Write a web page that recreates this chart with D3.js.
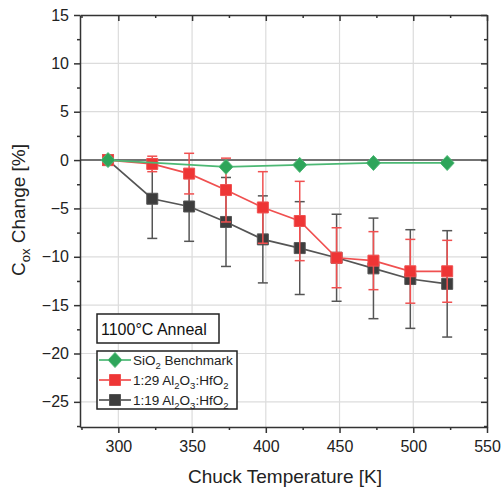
<!DOCTYPE html>
<html><head><meta charset="utf-8">
<script src="https://cdn.jsdelivr.net/npm/d3@7"></script>
<style>body{margin:0;background:#fff;} text{font-family:"Liberation Sans",Arial,sans-serif;}</style>
</head><body><svg id="c" width="502" height="497"></svg>
<script>
const temps = [293,323,348,373,398,423,448,473,498,523];
const sio2Temps = [293,373,423,473,523];
const sio2Vals = [0,-0.7,-0.5,-0.3,-0.3];
const r29Vals = [0,-0.4,-1.4,-3.1,-4.9,-6.3,-10.1,-10.4,-11.5,-11.5];
const r29Err  = [0,0.8,2.1,3.3,3.7,4.1,3.1,3.0,3.3,3.2];
const r19Vals = [0,-4.0,-4.8,-6.4,-8.2,-9.1,-10.1,-11.2,-12.3,-12.8];
const r19Err  = [0,4.1,3.6,4.6,4.5,4.8,4.5,5.2,5.1,5.5];
const xTicks = [300,350,400,450,500,550];
const yTicks = [-25,-20,-15,-10,-5,0,5,10,15];
const xMinor = [275,325,375,425,475,525];
const yMinor = [-27.5,-22.5,-17.5,-12.5,-7.5,-2.5,2.5,7.5,12.5];
const legendNames = ["SiO2 Benchmark","1:29 Al2O3:HfO2","1:19 Al2O3:HfO2"];
const annealLabel = "1100°C Anneal";

const L=80,R=487,T=15,B=427;
const x = d3.scaleLinear().domain([274,550]).range([L,R]);
const y = d3.scaleLinear().domain([-27.6,15]).range([B,T]);
const svg = d3.select("#c");
const axisCol="#333";

// grid
svg.append("g").selectAll("line").data(xTicks.slice(0,-1)).join("line")
  .attr("x1",d=>x(d)).attr("x2",d=>x(d)).attr("y1",T).attr("y2",B)
  .attr("stroke","#dcdcdc").attr("stroke-width",1.2);
svg.append("g").selectAll("line").data(yTicks.filter(d=>d!==0&&d!==15)).join("line")
  .attr("x1",L).attr("x2",R).attr("y1",d=>y(d)).attr("y2",d=>y(d))
  .attr("stroke","#dcdcdc").attr("stroke-width",1.2);
svg.append("line").attr("x1",L).attr("x2",R).attr("y1",y(0)).attr("y2",y(0))
  .attr("stroke","#444").attr("stroke-width",1.6);

// axes
function styleAxis(g){g.selectAll("path,line").attr("stroke",axisCol).attr("stroke-width",1.5);
  g.selectAll("text").attr("font-size",16).attr("fill","#222").attr("font-family","Liberation Sans, Arial, sans-serif");}
const fmt = d=> d<0 ? "\u2212"+Math.abs(d) : String(d);
svg.append("g").attr("transform",`translate(0,${B})`)
  .call(d3.axisBottom(x).tickValues(xTicks).tickSize(6).tickPadding(8).tickSizeOuter(0).tickFormat(fmt)).call(styleAxis);
svg.append("g").attr("transform",`translate(0,${B})`)
  .call(d3.axisBottom(x).tickValues(xMinor.filter(d=>d>=274)).tickSize(3).tickSizeOuter(0).tickFormat("")).call(styleAxis).select(".domain").remove();
svg.append("g").attr("transform",`translate(${L},0)`)
  .call(d3.axisLeft(y).tickValues(yTicks).tickSize(6).tickPadding(5).tickSizeOuter(0).tickFormat(fmt)).call(styleAxis);
svg.append("g").attr("transform",`translate(${L},0)`)
  .call(d3.axisLeft(y).tickValues(yMinor).tickSize(3).tickSizeOuter(0).tickFormat("")).call(styleAxis).select(".domain").remove();
// right & top axes (inward ticks)
svg.append("g").attr("transform",`translate(${R},0)`)
  .call(d3.axisRight(y).tickValues(yTicks).tickSize(-6).tickSizeOuter(0).tickFormat("")).call(styleAxis);
svg.append("g").attr("transform",`translate(${R},0)`)
  .call(d3.axisRight(y).tickValues(yMinor).tickSize(-3).tickSizeOuter(0).tickFormat("")).call(styleAxis).select(".domain").remove();
svg.append("g").attr("transform",`translate(0,${T})`)
  .call(d3.axisTop(x).tickValues(xTicks).tickSize(-6).tickSizeOuter(0).tickFormat("")).call(styleAxis);
svg.append("g").attr("transform",`translate(0,${T})`)
  .call(d3.axisTop(x).tickValues(xMinor.filter(d=>d>=274)).tickSize(-3).tickSizeOuter(0).tickFormat("")).call(styleAxis).select(".domain").remove();

// axis labels
svg.append("text").attr("x",285).attr("y",483).attr("text-anchor","middle").attr("font-size",19).attr("fill","#222")
  .text("Chuck Temperature [K]");
const yl = svg.append("text").attr("transform","translate(25,210) rotate(-90)").attr("text-anchor","middle").attr("font-size",19).attr("fill","#222");
yl.append("tspan").text("C");
yl.append("tspan").attr("font-size",13).attr("dy",5).text("ox");
yl.append("tspan").attr("dy",-5).text(" Change [%]");

// series
const line = d3.line().x(d=>x(d[0])).y(d=>y(d[1]));
function drawSeries(tt, vals, errs, col, lineCol, marker){
  const g = svg.append("g");
  const pts = tt.map((t,i)=>[t,vals[i],errs?errs[i]:0]);
  g.append("path").datum(pts).attr("d",line).attr("fill","none").attr("stroke",lineCol).attr("stroke-width",1.7);
  if(errs){
    const eb = g.selectAll("g.eb").data(pts.filter(p=>p[2]>0)).join("g").attr("stroke",lineCol).attr("stroke-width",1.5);
    eb.append("line").attr("x1",d=>x(d[0])).attr("x2",d=>x(d[0])).attr("y1",d=>y(d[1]+d[2])).attr("y2",d=>y(d[1]-d[2]));
    eb.append("line").attr("x1",d=>x(d[0])-5).attr("x2",d=>x(d[0])+5).attr("y1",d=>y(d[1]+d[2])).attr("y2",d=>y(d[1]+d[2]));
    eb.append("line").attr("x1",d=>x(d[0])-5).attr("x2",d=>x(d[0])+5).attr("y1",d=>y(d[1]-d[2])).attr("y2",d=>y(d[1]-d[2]));
  }
  g.selectAll("path.m").data(pts).join("path").attr("class","m")
    .attr("transform",d=>`translate(${x(d[0])},${y(d[1])})`)
    .attr("d",marker).attr("fill",col).attr("stroke",lineCol).attr("stroke-width",1);
}
const sq = "M-5.5,-5.5H5.5V5.5H-5.5Z";
const dm = "M0,-7.5L7,0L0,7.5L-7,0Z";
drawSeries(temps, r19Vals, r19Err, "#3d3d3d", "#555", sq);
drawSeries(temps, r29Vals, r29Err, "#ee3535", "#f05050", sq);
drawSeries(sio2Temps, sio2Vals, null, "#2ea55a", "#4cb874", dm);

// anneal box
svg.append("rect").attr("x",97).attr("y",314).attr("width",122).attr("height",29).attr("fill","#fff").attr("stroke","#222").attr("stroke-width",1.5);
svg.append("text").attr("x",101).attr("y",335).attr("font-size",16).attr("fill","#111").text(annealLabel);

// legend
svg.append("rect").attr("x",97).attr("y",351).attr("width",140).attr("height",58).attr("fill","#fff").attr("stroke","#222").attr("stroke-width",1.5);
const legCols = [["#2ea55a","#4cb874",dm],["#ee3535","#f05050",sq],["#3d3d3d","#555",sq]];
const legParts = [
  [["SiO",0],["2",1],[" Benchmark",0]],
  [["1:29 Al",0],["2",1],["O",0],["3",1],[":HfO",0],["2",1]],
  [["1:19 Al",0],["2",1],["O",0],["3",1],[":HfO",0],["2",1]]
];
legendNames.forEach((n,i)=>{
  const yy = 360 + i*20;
  svg.append("line").attr("x1",99).attr("x2",131).attr("y1",yy).attr("y2",yy).attr("stroke",legCols[i][1]).attr("stroke-width",1.7);
  svg.append("path").attr("transform",`translate(115,${yy})`).attr("d",legCols[i][2]).attr("fill",legCols[i][0]).attr("stroke",legCols[i][1]);
  const t = svg.append("text").attr("x",133).attr("y",yy+5).attr("font-size",13.5).attr("fill","#222");
  let prevSub=0;
  legParts[i].forEach(([s,sub])=>{
    const dy = sub&&!prevSub ? 4 : (!sub&&prevSub ? -4 : 0);
    t.append("tspan").attr("dy",dy).attr("font-size",sub?9.5:13.5).text(s);
    prevSub=sub;
  });
});
</script></body></html>
